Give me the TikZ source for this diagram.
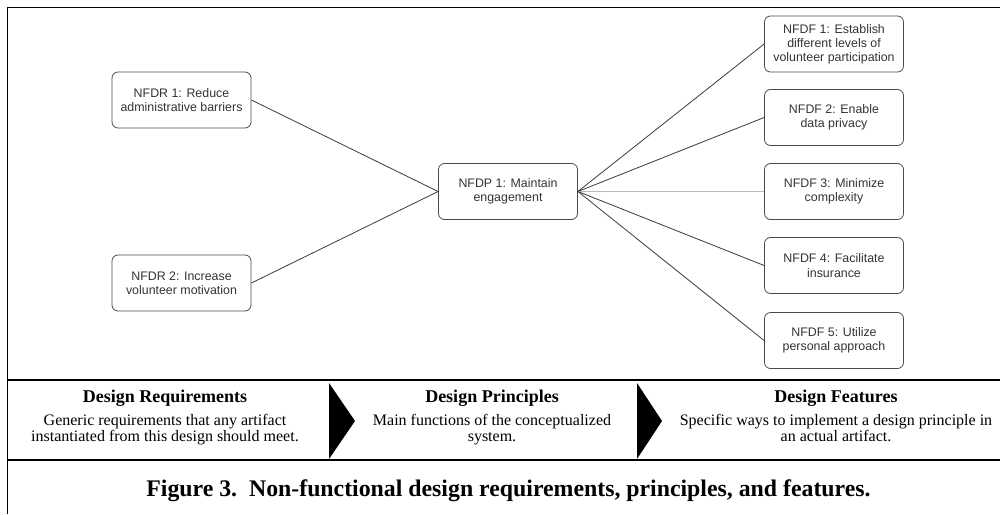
\documentclass[tikz,border=0pt]{standalone}
\usepackage{fontspec}
\setmainfont{Liberation Serif}
\newfontfamily\diagfont{Liberation Sans}

\definecolor{boxgray}{HTML}{4A4A4A}
\definecolor{txtgray}{HTML}{333333}
\definecolor{linkgray}{HTML}{3A3A3A}
\definecolor{faintgray}{HTML}{BBBBBB}

\begin{document}
\begin{tikzpicture}[x=1pt,y=-1pt,
  box/.style={draw=boxgray, line width=0.8pt, rounded corners=6pt,
    minimum width=139pt, minimum height=56pt, inner sep=0pt, align=center,
    text=txtgray, font=\diagfont\fontsize{12.4}{14.2}\selectfont},
  link/.style={draw=linkgray, line width=0.8pt},
  faintlink/.style={draw=faintgray, line width=0.8pt},
  rule/.style={line width=1.7pt, black},
  chevron/.style={fill=black, draw=none},
  head/.style={anchor=base, inner sep=0pt, font=\fontsize{18}{20}\selectfont\bfseries},
  body/.style={anchor=base, inner sep=0pt, font=\fontsize{16}{17}\selectfont},
  caption/.style={anchor=base, inner sep=0pt, font=\fontsize{23.8}{26}\selectfont\bfseries}
]
\useasboundingbox (0,0) rectangle (1000,514);

% frame of the figure
\draw[rule] (7.5,514) -- (7.5,7.5) -- (1000,7.5);
\draw[rule] (7.5,380) -- (1000,380);
\draw[rule] (7.5,460) -- (1000,460);

% requirements, principle and features
\node[box] (r1) at (181.5,100) {NFDR 1: Reduce\\administrative barriers};
\node[box] (r2) at (181.5,283) {NFDR 2: Increase\\volunteer motivation};
\node[box] (p1) at (508,191.5) {NFDP 1: Maintain\\engagement};
\node[box] (f1) at (834,44) {NFDF 1: Establish\\different levels of\\volunteer participation};
\node[box] (f2) at (834,117.5) {NFDF 2: Enable\\data privacy};
\node[box] (f3) at (834,191.5) {NFDF 3: Minimize\\complexity};
\node[box] (f4) at (834,265.5) {NFDF 4: Facilitate\\insurance};
\node[box] (f5) at (834,340.5) {NFDF 5: Utilize\\personal approach};

% connectors
\draw[link] (r1.east) -- (p1.west);
\draw[link] (r2.east) -- (p1.west);
\draw[link] (p1.east) -- (f1.west);
\draw[link] (p1.east) -- (f2.west);
\draw[faintlink] (p1.east) -- (f3.west);
\draw[link] (p1.east) -- (f4.west);
\draw[link] (p1.east) -- (f5.west);

% legend band
\fill[chevron] (329,383) -- (355,421) -- (329,459) -- cycle;
\fill[chevron] (637,383) -- (662,421) -- (637,459) -- cycle;

\node[head] (h1) at (165,402.5) {Design Requirements};
\node[body] (d1a) at (165,425) {Generic requirements that any artifact};
\node[body] (d1b) at (165,441.7) {instantiated from this design should meet.};

\node[head] (h2) at (492,402.5) {Design Principles};
\node[body] (d2a) at (492,425) {Main functions of the conceptualized};
\node[body] (d2b) at (492,441.7) {system.};

\node[head] (h3) at (836,402.5) {Design Features};
\node[body] (d3a) at (836,425) {Specific ways to implement a design principle in};
\node[body] (d3b) at (836,441.7) {an actual artifact.};

\node[caption] (cap) at (508.5,496.7) {Figure 3.\ \ Non-functional design requirements, principles, and features.};
\end{tikzpicture}
\end{document}
